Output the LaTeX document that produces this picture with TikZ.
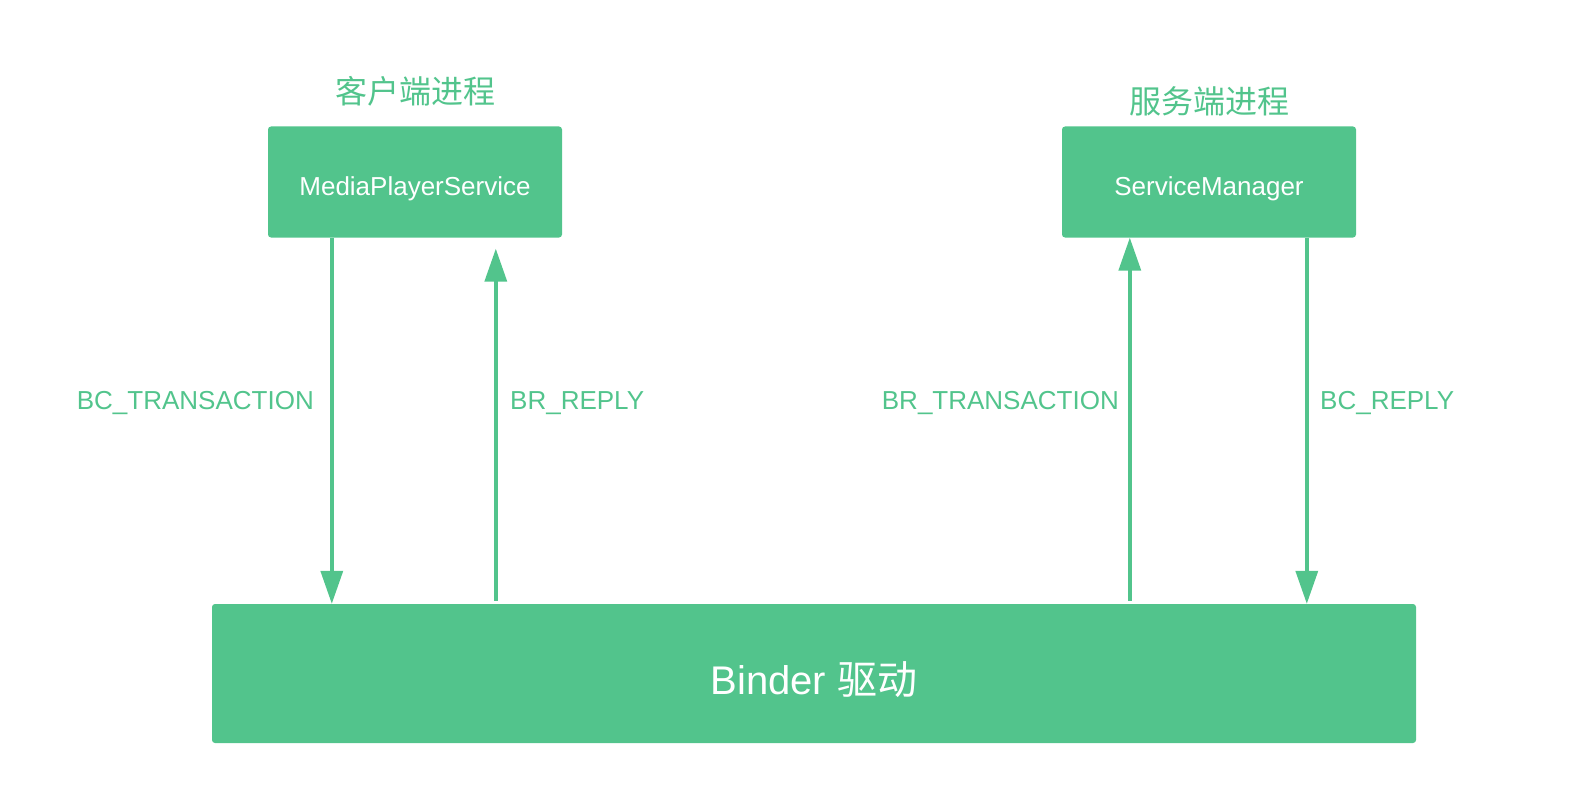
\documentclass[tikz,border=0pt]{standalone}
\usepackage{fontspec}
\setmainfont{Liberation Sans}
\newfontfamily\cjkfont{Noto Sans CJK SC}
\usepackage{tikz}
\usetikzlibrary{arrows.meta, positioning}
\definecolor{binderGreen}{HTML}{52C48C}
\tikzset{
  procbox/.style={rectangle, fill=binderGreen, rounded corners=3pt,
                  text=white, minimum width=294pt, minimum height=111pt,
                  inner sep=0pt, text height=27pt, text depth=0pt,
                  font=\fontsize{26}{31}\selectfont},
  driverbox/.style={procbox, minimum width=1204pt, minimum height=139pt,
                    text height=42pt, font=\fontsize{40}{48}\selectfont},
  proctitle/.style={text=binderGreen, inner sep=0pt,
                    font=\cjkfont\fontsize{32}{38}\selectfont},
  msg/.style={text=binderGreen, inner sep=0pt,
              font=\fontsize{26}{31}\selectfont},
  arrow/.style={-{Triangle[length=33pt, width=22pt]}, line width=3.5pt,
                draw=binderGreen},
}

\begin{document}
\begin{tikzpicture}[x=1pt, y=-1pt]
  \useasboundingbox (0,0) rectangle (1582,797);

  % process boxes and the driver
  \node[procbox]   (mps)    at (415,182)   {MediaPlayerService};
  \node[procbox]   (sm)     at (1209,182)  {ServiceManager};
  \node[driverbox] (binder) at (814,673.5) {Binder {\cjkfont 驱动}};

  \node[proctitle] (client) at (415,91)  {客户端进程};
  \node[proctitle] (server) at (1209,101) {服务端进程};

  % arrow columns
  \coordinate (cTx)  at ([xshift=64pt]mps.south west);
  \coordinate (cRep) at ([xshift=228pt]mps.south west);
  \coordinate (sTx)  at ([xshift=68pt]sm.south west);
  \coordinate (sRep) at ([xshift=245pt]sm.south west);

  \draw[arrow] (cTx) -- (cTx |- binder.north);
  \draw[arrow, shorten <=3pt, shorten >=11pt] (cRep |- binder.north) -- (cRep);
  \draw[arrow, shorten <=3pt] (sTx |- binder.north) -- (sTx);
  \draw[arrow] (sRep) -- (sRep |- binder.north);

  \node[msg, anchor=base east] (bctx)  at (314,409)  {BC\_TRANSACTION};
  \node[msg, anchor=base west] (brrep) at (510,409)  {BR\_REPLY};
  \node[msg, anchor=base east] (brtx)  at (1119,409) {BR\_TRANSACTION};
  \node[msg, anchor=base west] (bcrep) at (1320,409) {BC\_REPLY};

\end{tikzpicture}
\end{document}
